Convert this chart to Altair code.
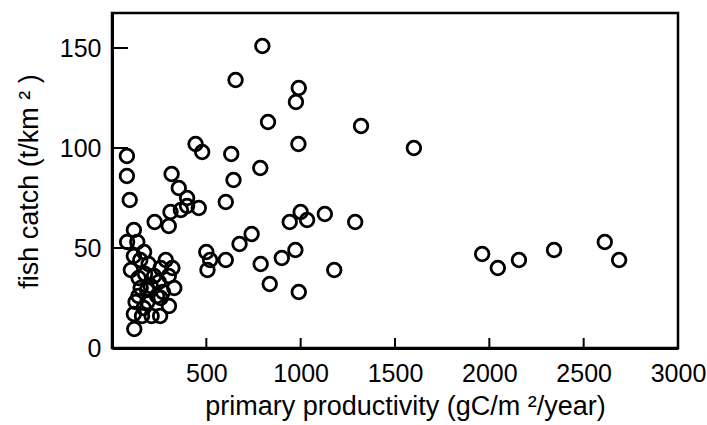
import altair as alt
import pandas as pd

productivity = [797, 655, 990, 975, 827, 1320, 988, 1600, 443, 478, 632, 79, 786, 79, 316, 644, 354, 94, 398, 603,
                310, 365, 398, 460, 226, 301, 116, 80, 134, 170, 116, 150, 100, 194, 285, 320, 258, 223, 141, 152,
                205, 248, 330, 239, 302, 125, 188, 258, 168, 116, 159, 210, 255, 118, 186, 301, 175, 270, 140, 500,
                520, 506, 603, 676, 740, 788, 836, 900, 972, 990, 942, 1000, 1034, 1128, 1178, 1289, 1962, 2045, 2157, 2343,
                2612, 2688]
fish_catch = [151, 134, 130, 123, 113, 111, 102, 100, 102, 98, 97, 96, 90, 86, 87, 84, 80, 74, 75, 73,
              68, 69, 71, 70, 63, 61, 59, 53, 53, 48, 46, 44, 39, 42, 44, 40, 40, 36, 35, 30,
              31, 33, 30, 26, 21, 23, 23, 25, 20, 17, 16, 16, 16, 9.5, 29, 36, 37, 28, 26, 48,
              44, 39, 44, 52, 57, 42, 32, 45, 49, 28, 63, 68, 64, 67, 39, 63, 47, 40, 44, 49,
              53, 44]

x_tick_values = [500, 1000, 1500, 2000, 2500, 3000]
y_tick_values = [0, 50, 100, 150]
x_inner_ticks = [500, 1000, 1500, 2000, 2500]
y_inner_ticks = [50, 100, 150]

df = pd.DataFrame({"productivity": productivity, "catch": fish_catch})

FONT = "Liberation Sans"
xs = alt.Scale(domain=[0, 3000], nice=False, zero=False)
ys = alt.Scale(domain=[0, 167.5], nice=False)

x_axis = alt.Axis(
    values=x_tick_values, format="d", ticks=False, grid=False, domain=True, domainColor="black", domainWidth=3,
    labelFont=FONT, labelFontSize=25, labelColor="black", labelPadding=13,
    labelFlush=False, labelOverlap=False, labelBound=False,
    title="primary productivity (gC/m  ²/year)", titleFont=FONT, titleFontSize=27,
    titleFontWeight="normal", titleColor="black", titleX=293, titleY=58,
    titleAlign="center", titleBaseline="middle")
y_axis = alt.Axis(
    values=y_tick_values, format="d", ticks=False, grid=False, domain=True, domainColor="black", domainWidth=3,
    labelFont=FONT, labelFontSize=25, labelColor="black", labelPadding=11,
    labelFlush=False, labelOverlap=False,
    title="fish catch (t/km ² )", titleFont=FONT, titleFontSize=27,
    titleFontWeight="normal", titleColor="black", titleAngle=270, titleX=-83, titleY=168,
    titleAlign="center", titleBaseline="middle")

points = alt.Chart(df).mark_point(
    shape="circle", filled=False, color="black", size=185, strokeWidth=2.8, opacity=1
).encode(
    x=alt.X("productivity:Q", scale=xs, axis=x_axis),
    y=alt.Y("catch:Q", scale=ys, axis=y_axis),
)

xt = alt.Chart(pd.DataFrame({"productivity": x_inner_ticks})).mark_rule(color="black", strokeWidth=2).encode(
    x=alt.X("productivity:Q", scale=xs, axis=x_axis), y=alt.value(335), y2=alt.value(325)
)
yt = alt.Chart(pd.DataFrame({"catch": y_inner_ticks})).mark_rule(color="black", strokeWidth=2).encode(
    y=alt.Y("catch:Q", scale=ys, axis=y_axis), x=alt.value(0), x2=alt.value(16)
)

chart = alt.layer(points, xt, yt).properties(
    width=566, height=335,
    padding={"left": 112, "top": 13, "right": 29, "bottom": 77},
    autosize=alt.AutoSizeParams(type="none"),
    background="white",
).configure_view(stroke="black", strokeWidth=2.5)

chart.save("out.html", embed_options={"renderer": "svg", "actions": False})
